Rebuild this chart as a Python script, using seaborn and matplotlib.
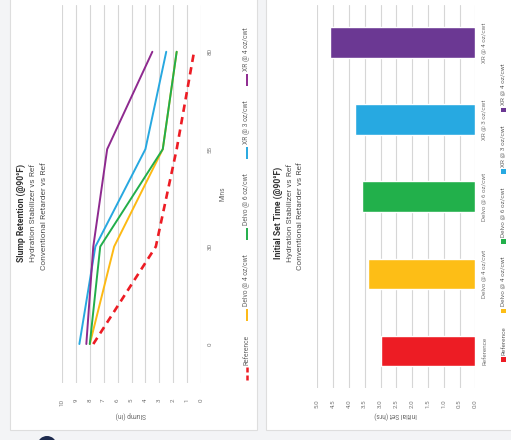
import matplotlib
matplotlib.use("Agg")
import matplotlib.pyplot as plt
import seaborn as sns
import pandas as pd
from matplotlib.patches import Rectangle, Ellipse
from matplotlib.lines import Line2D

# ---------------- data ----------------
mins = ["0", "30", "55", "80"]
series_names = ["Reference", "Delvo @ 4 oz/cwt", "Delvo @ 6 oz/cwt", "XR @ 3 oz/cwt", "XR @ 4 oz/cwt"]
slump_reference = [7.75, 3.25, 1.75, 0.5]
slump_delvo4 = [8.0, 6.25, 2.75, 1.75]
slump_delvo6 = [8.0, 7.25, 2.75, 1.75]
slump_xr3 = [8.75, 7.6, 4.0, 2.5]
slump_xr4 = [8.25, 7.75, 6.75, 3.5]
slump_ticks = list(range(0, 11))

set_categories = ["Reference", "Delvo @ 4 oz/cwt", "Delvo @ 6 oz/cwt", "XR @ 3 oz/cwt", "XR @ 4 oz/cwt"]
set_hours = [3.0, 3.4, 3.6, 3.8, 4.6]
set_ticks = [0.0, 0.5, 1.0, 1.5, 2.0, 2.5, 3.0, 3.5, 4.0, 4.5, 5.0]

line_colors = ["#ED1C24", "#FDB913", "#22AE4B", "#27A8E0", "#8E2A8F"]
bar_colors = ["#ED1C24", "#FDBE16", "#22B04B", "#27A9E1", "#6B3893"]

# ---------------- style ----------------
sns.set_style("white")
plt.rcParams["font.family"] = ["Roboto", "DejaVu Sans"]

W, H = 511, 440
fig = plt.figure(figsize=(W / 100, H / 100), dpi=100)
fig.patch.set_facecolor("#f3f4f6")

def fx(x):
    return x / W

def fy(y):
    return 1 - y / H

# cards
for x0, x1 in [(10, 257), (266, 520)]:
    fig.patches.append(Rectangle((fx(x0), fy(430)), fx(x1 - x0), 430 / H + 0.05,
                                 transform=fig.transFigure, fc="white", ec="#dedede",
                                 lw=0.8, zorder=-10))
# fragment of a logo at the bottom edge
fig.patches.append(Ellipse((fx(47), fy(444)), fx(18), 16 / H, transform=fig.transFigure,
                           fc="#1d2a4d", ec="none", zorder=-9))

tick_color = "#777777"
grid_color = "#d6d6d6"
tick_fs = 4.5

# ---------------- slump retention ----------------
ax1 = fig.add_axes([fx(62), fy(383), fx(201 - 62), 378 / H])
positions = list(range(len(mins)))
all_slump = [slump_reference, slump_delvo4, slump_delvo6, slump_xr3, slump_xr4]
for name, vals, col in zip(series_names, all_slump, line_colors):
    if name == "Reference":
        sns.lineplot(x=vals, y=positions, ax=ax1, color=col, lw=1.9, sort=False,
                     estimator=None, orient="y", linestyle=(0, (2.8, 2.0)))
    else:
        sns.lineplot(x=vals, y=positions, ax=ax1, color=col, lw=1.4, sort=False,
                     estimator=None, orient="y")
ax1.set_xlim(10, 0)
ax1.set_ylim(-0.40, 3.48)
ax1.set_xticks(slump_ticks)
ax1.set_xticklabels([str(t) for t in slump_ticks], rotation=90, fontsize=tick_fs, color=tick_color)
ax1.set_yticks(positions)
ax1.set_yticklabels(mins, rotation=90, fontsize=tick_fs, color=tick_color, va="center")
ax1.yaxis.tick_right()
ax1.tick_params(axis="x", length=0, pad=11.5)
ax1.tick_params(axis="y", length=0, pad=5)
ax1.grid(axis="x", color=grid_color, lw=0.8)
ax1.grid(axis="y", visible=False)
for s in ax1.spines.values():
    s.set_visible(False)
ax1.set_xlabel("")
ax1.set_ylabel("")
ax1.set_facecolor("none")

fig.text(fx(21), fy(213), "Slump Retention (@90°F)", rotation=90, ha="center", va="center",
         fontsize=6.2, fontweight="bold", color="#333333")
fig.text(fx(32.5), fy(213), "Hydration Stabilizer vs Ref", rotation=90, ha="center", va="center",
         fontsize=6.0, color="#555555")
fig.text(fx(44), fy(216), "Conventional Retarder vs Ref", rotation=90, ha="center", va="center",
         fontsize=6.0, color="#555555")
fig.text(fx(223), fy(194), "Mins", rotation=90, ha="center", va="center", fontsize=4.8, color="#666666")
fig.text(fx(131), fy(415), "Slump (in)", rotation=180, ha="center", va="center", fontsize=4.8, color="#666666")

# ---------------- initial set ----------------
ax2 = fig.add_axes([fx(317.3), fy(388), fx(475.3 - 317.3), 383 / H])
df_set = pd.DataFrame({"category": set_categories, "hours": set_hours})
sns.barplot(data=df_set, x="hours", y="category", hue="category", palette=bar_colors,
            orient="h", width=0.4, saturation=1, legend=False, ax=ax2, zorder=3)
ax2.set_xlim(5, 0)
ax2.set_ylim(-0.48, 4.49)
ax2.set_xticks(set_ticks)
ax2.set_xticklabels([f"{t:.1f}" for t in set_ticks], rotation=90, fontsize=tick_fs, color=tick_color)
ax2.set_yticks(range(len(set_categories)))
ax2.set_yticklabels(set_categories, rotation=90, fontsize=tick_fs, color=tick_color, va="center")
ax2.yaxis.tick_right()
ax2.tick_params(axis="x", length=0, pad=8)
ax2.tick_params(axis="y", length=0, pad=5)
ax2.grid(axis="x", color=grid_color, lw=0.8, zorder=0)
ax2.set_axisbelow(True)
for s in ax2.spines.values():
    s.set_visible(False)
ax2.set_xlabel("")
ax2.set_ylabel("")
ax2.set_facecolor("none")

fig.text(fx(278.5), fy(213), "Initial Set Time (@90°F)", rotation=90, ha="center", va="center",
         fontsize=6.2, fontweight="bold", color="#333333")
fig.text(fx(290), fy(213), "Hydration Stabilizer vs Ref", rotation=90, ha="center", va="center",
         fontsize=6.0, color="#555555")
fig.text(fx(300), fy(216), "Conventional Retarder vs Ref", rotation=90, ha="center", va="center",
         fontsize=6.0, color="#555555")
fig.text(fx(396), fy(414.5), "Initial Set (hrs)", rotation=180, ha="center", va="center",
         fontsize=4.8, color="#666666")

# ---------------- legends (rotated, laid out sequentially) ----------------
fig.canvas.draw()
renderer = fig.canvas.get_renderer()

def rotated_legend(x, y_start, names, colors, kind, fs, gap):
    y = y_start
    for i, (name, col) in enumerate(zip(names, colors)):
        if kind == "line":
            if i == 0:
                for a, b in [(0, 5), (8, 13)]:
                    fig.add_artist(Line2D([fx(x), fx(x)], [fy(y - a), fy(y - b)], color=col,
                                          lw=1.8, solid_capstyle="butt", transform=fig.transFigure))
            else:
                fig.add_artist(Line2D([fx(x), fx(x)], [fy(y), fy(y - 12)], color=col, lw=1.4,
                                      solid_capstyle="butt", transform=fig.transFigure))
            y -= 15
        else:
            fig.patches.append(Rectangle((fx(x - 2.3), fy(y)), fx(4.6), 4.6 / H,
                                         transform=fig.transFigure, fc=col, ec="none"))
            y -= 7
        t = fig.text(fx(x), fy(y), name, rotation=90, ha="center", va="bottom",
                     fontsize=fs, color="#666666")
        bb = t.get_window_extent(renderer)
        y -= bb.height + gap

rotated_legend(247, 380, series_names, line_colors, "line", 4.9, 14)
rotated_legend(503.5, 362, set_categories, bar_colors, "square", 4.6, 13)

fig.savefig("out.png", dpi=100, facecolor=fig.get_facecolor())
